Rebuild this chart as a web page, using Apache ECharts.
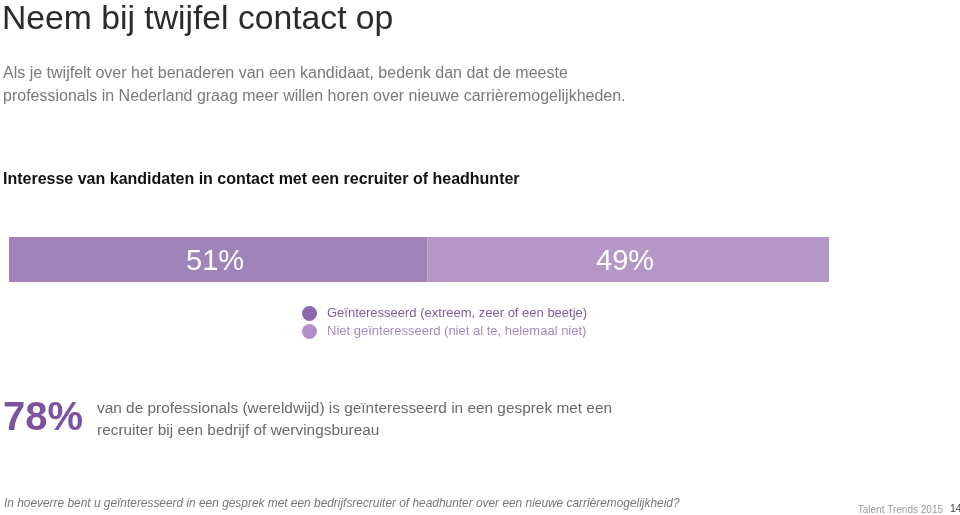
<!DOCTYPE html>
<html>
<head>
<meta charset="utf-8">
<script src="https://cdn.jsdelivr.net/npm/echarts@6/dist/echarts.min.js"></script>
<style>
  html, body { margin: 0; padding: 0; background: #ffffff; }
  #chart { width: 960px; height: 515px; }
</style>
</head>
<body>
<div id="chart"></div>
<script>
// data
const seriesNames = ['Geïnteresseerd (extreem, zeer of een beetje)', 'Niet geïnteresseerd (niet al te, helemaal niet)'];
const shares = [51, 49];
const barCategory = ['Interesse'];
const highlightValue = '78%';

const barColors = ['#9f83b9', '#b497c6'];
const dotColors = ['#8d67b1', '#b38fc7'];
const legendTextColors = ['#7c5ea2', '#a78abf'];

const chart = echarts.init(document.getElementById('chart'));

const option = {
  backgroundColor: '#ffffff',
  animation: false,
  grid: { left: 9, right: 131, top: 237, height: 45, containLabel: false },
  xAxis: { type: 'value', min: 0, max: 100, show: false },
  yAxis: { type: 'category', data: barCategory, show: false },
  legend: {
    orient: 'vertical',
    left: 297,
    top: 301,
    icon: 'circle',
    itemWidth: 15,
    itemHeight: 15,
    itemGap: 3,
    textStyle: { fontFamily: 'Liberation Sans, Arial', fontSize: 13, padding: [0, 0, 0, 5] },
    data: seriesNames.map((n, i) => ({
      name: n,
      itemStyle: { color: dotColors[i] },
      textStyle: { color: legendTextColors[i] }
    }))
  },
  series: seriesNames.map((n, i) => ({
    name: n,
    type: 'bar',
    stack: 'total',
    barWidth: 45,
    data: [shares[i]],
    itemStyle: { color: barColors[i] },
    label: {
      show: true,
      position: 'inside',
      offset: [-3, 2],
      formatter: '{c}%',
      color: '#ffffff',
      fontFamily: 'Liberation Sans, Arial',
      fontSize: 29
    }
  })),
  graphic: [
    { type: 'text', left: 2, top: 3,
      style: { text: 'Neem bij twijfel contact op', fill: '#2b2b2b', fontSize: 33.7, fontFamily: 'Liberation Sans, Arial' } },
    { type: 'text', left: 3, top: 62,
      style: { text: 'Als je twijfelt over het benaderen van een kandidaat, bedenk dan dat de meeste\nprofessionals in Nederland graag meer willen horen over nieuwe carrièremogelijkheden.',
        fill: '#7a7a7a', fontSize: 16, lineHeight: 23, fontFamily: 'Liberation Sans, Arial' } },
    { type: 'text', left: 3, top: 172,
      style: { text: 'Interesse van kandidaten in contact met een recruiter of headhunter', fill: '#111111', fontSize: 16, fontWeight: 'bold', fontFamily: 'Liberation Sans, Arial' } },
    { type: 'text', left: 3, top: 399,
      style: { text: highlightValue, fill: '#7b53a1', fontSize: 40, fontWeight: 'bold', fontFamily: 'Liberation Sans, Arial' } },
    { type: 'text', left: 97, top: 398,
      style: { text: 'van de professionals (wereldwijd) is geïnteresseerd in een gesprek met een\nrecruiter bij een bedrijf of wervingsbureau',
        fill: '#6a6a6a', fontSize: 15.4, lineHeight: 22, fontFamily: 'Liberation Sans, Arial' } },
    { type: 'text', left: 4, top: 498,
      style: { text: 'In hoeverre bent u geïnteresseerd in een gesprek met een bedrijfsrecruiter of headhunter over een nieuwe carrièremogelijkheid?',
        fill: '#777777', fontSize: 11.9, fontStyle: 'italic', fontFamily: 'Liberation Sans, Arial' } },
    { type: 'text', right: 17, top: 505,
      style: { text: 'Talent Trends 2015', fill: '#9a9a9a', fontSize: 10, fontFamily: 'Liberation Sans, Arial' } },
    { type: 'text', left: 950, top: 504,
      style: { text: '14', fill: '#444444', fontSize: 10.5, fontFamily: 'Liberation Sans, Arial' } }
  ]
};

chart.setOption(option);
</script>
</body>
</html>
